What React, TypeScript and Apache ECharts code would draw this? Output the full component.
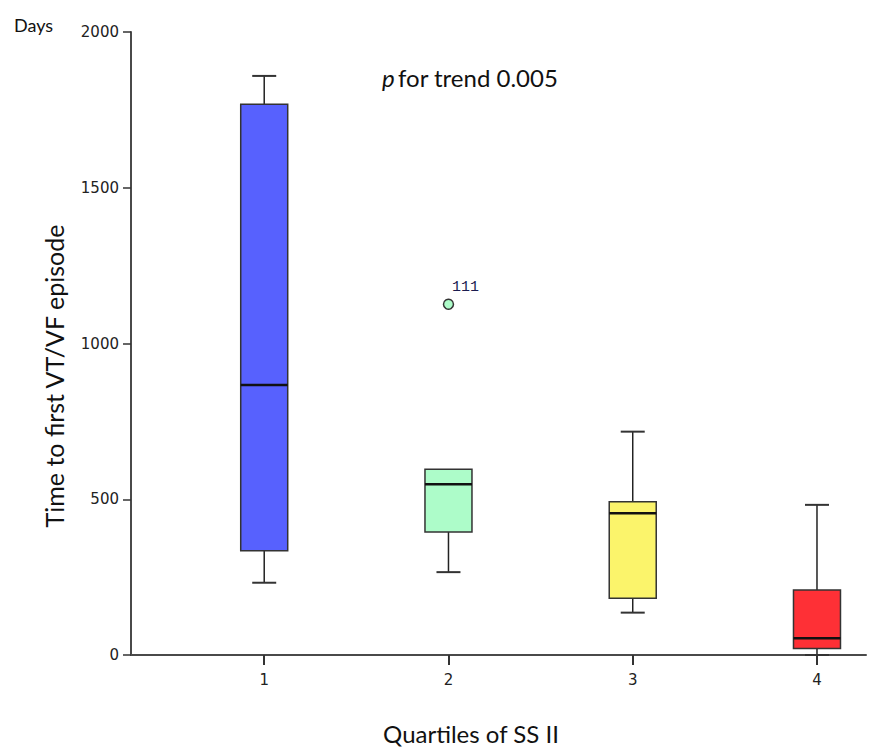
import React, { useEffect, useRef } from "react";
import * as echarts from "echarts";

// Quartile groups and box statistics (days): [low whisker, Q1, median, Q3, high whisker]
const quartiles = [1, 2, 3, 4];
const lowWhisker = [232, 266, 136, 0];
const q1 = [335, 395, 182, 21];
const median = [867, 548, 455, 54];
const q3 = [1768, 596, 492, 209];
const highWhisker = [1859, 596, 717, 482];
const boxColors = ["#5761FE", "#ADFCC9", "#FBF46B", "#FE3036"];

// Outliers: [quartile, value, case label]
const outlierQuartile = [2];
const outlierValue = [1126];
const outlierLabel = ["111"];

const yTicks = [0, 500, 1000, 1500, 2000];

export default function App() {
  const ref = useRef<HTMLDivElement>(null);

  useEffect(() => {
    if (!ref.current) return;
    const chart = echarts.init(ref.current, undefined, { renderer: "svg" });

    const boxData = quartiles.map((q, i) => [
      q,
      lowWhisker[i],
      q1[i],
      median[i],
      q3[i],
      highWhisker[i],
      i,
    ]);

    const outlierData = outlierQuartile.map((q, i) => ({
      value: [q, outlierValue[i]],
      label: { formatter: outlierLabel[i] },
      itemStyle: { color: boxColors[q - 1] },
    }));

    const option: any = {
      animation: false,
      backgroundColor: "#ffffff",
      grid: { left: 131, right: 9, top: 32, bottom: 92, containLabel: false },
      xAxis: {
        type: "value",
        min: 0.277,
        max: 4.266,
        splitLine: { show: false },
        axisLine: { show: true, lineStyle: { color: "#4a4a4a", width: 2 } },
        axisTick: {
          show: true,
          customValues: quartiles,
          length: 10,
          lineStyle: { color: "#333", width: 2 },
        },
        axisLabel: {
          customValues: quartiles,
          margin: 17,
          color: "#222",
          fontSize: 15,
          fontFamily: "DejaVu Sans",
        },
      },
      yAxis: {
        type: "value",
        min: 0,
        max: 2000,
        interval: 500,
        splitLine: { show: false },
        axisLine: { show: true, lineStyle: { color: "#4a4a4a", width: 2 } },
        axisTick: { show: true, length: 8, lineStyle: { color: "#333", width: 1.5 } },
        axisLabel: {
          margin: 12,
          color: "#222",
          fontSize: 15,
          fontFamily: "DejaVu Sans",
          formatter: (v: number) => (yTicks.includes(v) ? String(v) : ""),
        },
      },
      series: [
        {
          type: "custom",
          data: boxData,
          encode: { x: 0, y: [1, 2, 3, 4, 5] },
          renderItem: (params: any, api: any) => {
            const x = api.value(0);
            const idx = api.value(6);
            const pLow = api.coord([x, api.value(1)]);
            const pQ1 = api.coord([x, api.value(2)]);
            const pMed = api.coord([x, api.value(3)]);
            const pQ3 = api.coord([x, api.value(4)]);
            const pHigh = api.coord([x, api.value(5)]);
            const cx = pMed[0];
            const halfBox = 23.5;
            const halfCap = 12;
            const wStyle = { stroke: "#222", lineWidth: 1.5 };
            const children: any[] = [];
            if (pHigh[1] < pQ3[1] - 0.5) {
              children.push({
                type: "line",
                shape: { x1: cx, y1: pQ3[1], x2: cx, y2: pHigh[1] },
                style: wStyle,
              });
              children.push({
                type: "line",
                shape: { x1: cx - halfCap, y1: pHigh[1], x2: cx + halfCap, y2: pHigh[1] },
                style: { stroke: "#333", lineWidth: 2 },
              });
            }
            if (pLow[1] > pQ1[1] + 0.5) {
              children.push({
                type: "line",
                shape: { x1: cx, y1: pQ1[1], x2: cx, y2: pLow[1] },
                style: wStyle,
              });
              children.push({
                type: "line",
                shape: { x1: cx - halfCap, y1: pLow[1], x2: cx + halfCap, y2: pLow[1] },
                style: { stroke: "#333", lineWidth: 2 },
              });
            }
            children.push({
              type: "rect",
              shape: { x: cx - halfBox, y: pQ3[1], width: halfBox * 2, height: pQ1[1] - pQ3[1] },
              style: { fill: boxColors[idx], stroke: "#333", lineWidth: 1.5 },
            });
            children.push({
              type: "line",
              shape: { x1: cx - halfBox, y1: pMed[1], x2: cx + halfBox, y2: pMed[1] },
              style: { stroke: "#111", lineWidth: 2.5 },
            });
            return { type: "group", children };
          },
          z: 3,
        },
        {
          type: "scatter",
          data: outlierData,
          symbol: "circle",
          symbolSize: 10,
          itemStyle: { borderColor: "#333", borderWidth: 1.5, opacity: 1 },
          label: {
            show: true,
            position: "top",
            offset: [17, 1],
            fontFamily: "Liberation Mono",
            fontSize: 15,
            color: "#1c1c50",
          },
          z: 4,
        },
      ],
      graphic: [
        {
          type: "text",
          left: 14,
          top: 16,
          style: { text: "Days", fontFamily: "Lato", fontSize: 18, fill: "#111" },
        },
        {
          type: "text",
          x: 382,
          y: 77,
          style: {
            text: "{i|p} {n|for trend 0.005}",
            textVerticalAlign: "middle",
            rich: {
              i: { fontFamily: "Lato", fontSize: 24, fontStyle: "italic", fill: "#111" },
              n: { fontFamily: "Lato", fontSize: 24, fill: "#111" },
            },
          },
        },
        {
          type: "text",
          x: 54,
          y: 376,
          rotation: Math.PI / 2,
          style: {
            text: "Time to first VT/VF episode",
            fontFamily: "Lato",
            fontSize: 25,
            fill: "#111",
            textAlign: "center",
            textVerticalAlign: "middle",
          },
        },
        {
          type: "text",
          x: 471,
          y: 733,
          style: {
            text: "Quartiles of SS II",
            fontFamily: "Lato",
            fontSize: 24,
            fill: "#111",
            textAlign: "center",
            textVerticalAlign: "middle",
          },
        },
      ],
    };

    chart.setOption(option);
    return () => chart.dispose();
  }, []);

  return (
    <div
      ref={ref}
      style={{ position: "fixed", left: 0, top: 0, width: 875, height: 747, background: "#fff" }}
    />
  );
}
